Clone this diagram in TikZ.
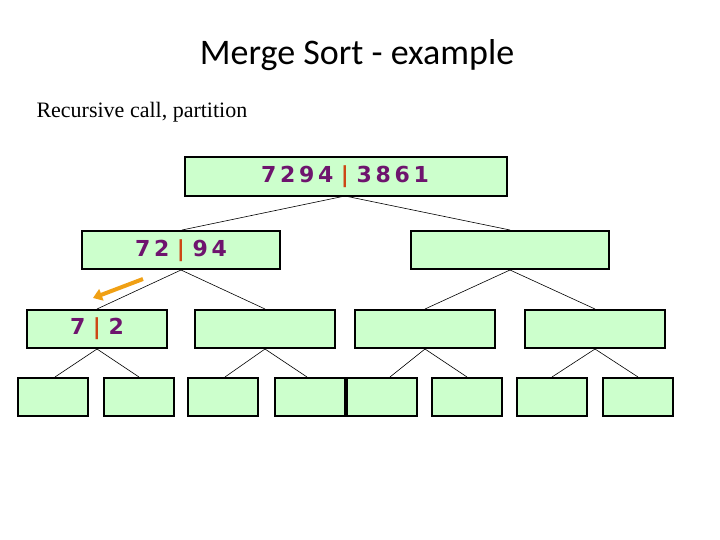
\documentclass[tikz,border=0pt]{standalone}
\usetikzlibrary{arrows.meta}
\usepackage{fontspec}
\setmainfont{Liberation Serif}
\newfontfamily\ttl{Carlito}
\newfontfamily\dig{DejaVu Sans}
\definecolor{boxg}{RGB}{204,255,204}
\definecolor{numc}{RGB}{110,20,110}
\definecolor{barc}{RGB}{205,70,20}
\definecolor{arr}{RGB}{240,160,20}
\begin{document}
\begin{tikzpicture}[x=1pt,y=-1pt,
  bx/.style={draw=black,line width=2.6pt,fill=boxg,inner sep=0},
  ln/.style={black,line width=0.6pt},
  nm/.style={font=\dig\bfseries\fontsize{22}{26}\selectfont,text=numc}]
\useasboundingbox (0,0) rectangle (720,540);
\node[font=\ttl\fontsize{36}{42}\selectfont] (title) at (357,55) {Merge Sort - example};
\node[anchor=west,font=\fontsize{22}{26}\selectfont] (sub) at (33,112) {Recursive call, partition};
% level 1
\draw[bx] (185,157) rectangle (507,196);
\coordinate (t) at (345,196);
\node[nm] (tt) at (345,177) {7\,2\,9\,4 \textcolor{barc}{|} 3\,8\,6\,1};
% level 2
\draw[bx] (82,231) rectangle (280,269);
\draw[bx] (411,231) rectangle (609,269);
\node[nm] (l2) at (181,251) {7\,2 \textcolor{barc}{|} 9\,4};
\coordinate (a1) at (182,230); \coordinate (a2) at (510,230);
\draw[ln] (t) -- (a1); \draw[ln] (t) -- (a2);
% level 3
\foreach \x in {27,195,355,525}{\draw[bx] (\x,310) rectangle ({\x+140},348);}
\node[nm] (l3) at (97,329) {7 \textcolor{barc}{|} 2};
\coordinate (b1) at (181,270); \coordinate (b2) at (510,270);
\coordinate (c1) at (97,309); \coordinate (c2) at (265,309);
\coordinate (c3) at (425,309); \coordinate (c4) at (595,309);
\draw[ln] (b1) -- (c1); \draw[ln] (b1) -- (c2);
\draw[ln] (b2) -- (c3); \draw[ln] (b2) -- (c4);
% level 4
\foreach \x in {18,104,188,275,347,432,517,603}{\draw[bx] (\x,378) rectangle ({\x+70},416);}
\foreach \c/\l/\r in {97/55/139,265/225/307,425/390/467,595/552/638}{
  \draw[ln] (\c,349) -- (\l,377); \draw[ln] (\c,349) -- (\r,377);}
% arrow
\coordinate (p) at (143,279); \coordinate (q) at (93,298);
\draw[arr,line width=4pt,-{Triangle[length=9pt,width=12pt]}] (p) -- (q);
\end{tikzpicture}
\end{document}
